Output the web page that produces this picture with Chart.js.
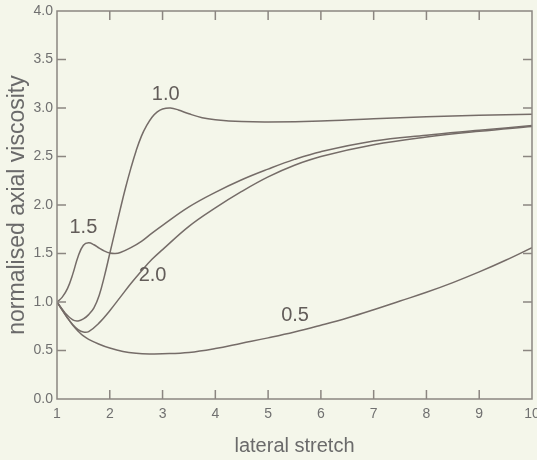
<!DOCTYPE html>
<html>
<head>
<meta charset="utf-8">
<script src="https://cdn.jsdelivr.net/npm/chart.js@4"></script>
<style>
  html, body { margin: 0; padding: 0; background: #f4f6ea; }
  #wrap { width: 537px; height: 460px; position: relative; }
</style>
</head>
<body>
<div id="wrap"><canvas id="c"></canvas></div>
<script>
// Curves: lateral stretch (x) vs normalised axial viscosity (y)
const x05 = [1, 1.1, 1.2, 1.3, 1.4, 1.5, 1.6, 1.8, 2.0, 2.25, 2.5, 2.75, 3, 3.5, 4, 4.5, 5, 5.5, 6, 6.5, 7, 7.5, 8, 8.5, 9, 9.5, 10];
const y05 = [1.0, 0.915, 0.835, 0.76, 0.70, 0.65, 0.615, 0.565, 0.525, 0.49, 0.472, 0.465, 0.466, 0.48, 0.52, 0.575, 0.63, 0.69, 0.76, 0.835, 0.92, 1.01, 1.1, 1.2, 1.31, 1.43, 1.56];

const x10 = [1, 1.15, 1.3, 1.4, 1.5, 1.6, 1.7, 1.8, 1.9, 2.0, 2.1, 2.2, 2.3, 2.4, 2.5, 2.6, 2.7, 2.8, 2.9, 3.0, 3.15, 3.3, 3.5, 3.75, 4, 4.5, 5, 6, 7, 8, 9, 10];
const y10 = [1.0, 0.89, 0.815, 0.805, 0.825, 0.87, 0.94, 1.07, 1.27, 1.5, 1.73, 1.96, 2.18, 2.38, 2.56, 2.71, 2.82, 2.905, 2.96, 2.99, 3.0, 2.98, 2.94, 2.9, 2.88, 2.86, 2.855, 2.865, 2.89, 2.91, 2.925, 2.935];

const x15 = [1, 1.1, 1.2, 1.3, 1.4, 1.5, 1.6, 1.7, 1.8, 1.9, 2.0, 2.1, 2.2, 2.4, 2.6, 2.8, 3.0, 3.5, 4, 4.5, 5, 5.5, 6, 7, 8, 9, 10];
const y15 = [1.0, 1.05, 1.14, 1.29, 1.47, 1.585, 1.61, 1.59, 1.555, 1.525, 1.505, 1.5, 1.51, 1.56, 1.625, 1.71, 1.79, 1.98, 2.13, 2.26, 2.37, 2.47, 2.55, 2.66, 2.72, 2.77, 2.82];

const x20 = [1, 1.1, 1.2, 1.3, 1.4, 1.5, 1.6, 1.8, 2.0, 2.2, 2.4, 2.6, 2.8, 3.0, 3.5, 4, 4.5, 5, 5.5, 6, 7, 8, 9, 10];
const y20 = [1.0, 0.92, 0.835, 0.765, 0.715, 0.69, 0.695, 0.785, 0.91, 1.05, 1.19, 1.32, 1.44, 1.54, 1.78, 1.97, 2.14, 2.29, 2.41, 2.5, 2.62, 2.7, 2.76, 2.81];

// In-plot curve labels, placed in data units
const curveLabels = ['1.0', '1.5', '2.0', '0.5'];
const labelX = [3.06, 1.5, 2.81, 5.51];
const labelY = [3.14, 1.77, 1.27, 0.86];

const xTicks = [1, 2, 3, 4, 5, 6, 7, 8, 9, 10];
const yTicks = [0, 0.5, 1, 1.5, 2, 2.5, 3, 3.5, 4];

const INK = '#756c68';
const TEXT = '#707070';
const FRAME = '#8b8681';
const FONT = "'Liberation Sans', Arial, sans-serif";

const pts = (xs, ys) => xs.map((x, i) => ({ x, y: ys[i] }));
const line = (xs, ys) => ({
  data: pts(xs, ys), showLine: true, borderColor: INK, borderWidth: 1.5,
  pointRadius: 0, fill: false, tension: 0.4,
});

// Frame plus inward ticks on all four sides, the way the scanned figure has them.
const frame = {
  id: 'frame',
  afterDatasetsDraw(chart) {
    const { ctx, chartArea: a, scales: { x, y } } = chart;
    const len = 9;
    ctx.save();
    ctx.strokeStyle = FRAME; ctx.lineWidth = 1.5;
    ctx.strokeRect(a.left, a.top, a.right - a.left, a.bottom - a.top);
    ctx.beginPath();
    xTicks.slice(1, -1).forEach(v => {
      const px = x.getPixelForValue(v);
      ctx.moveTo(px, a.bottom); ctx.lineTo(px, a.bottom - len);
      ctx.moveTo(px, a.top); ctx.lineTo(px, a.top + len);
    });
    yTicks.slice(1, -1).forEach(v => {
      const py = y.getPixelForValue(v);
      ctx.moveTo(a.left, py); ctx.lineTo(a.left + len, py);
      ctx.moveTo(a.right, py); ctx.lineTo(a.right - len, py);
    });
    ctx.stroke();
    ctx.fillStyle = '#625c59';
    ctx.font = `20px ${FONT}`;
    ctx.textAlign = 'center'; ctx.textBaseline = 'middle';
    curveLabels.forEach((t, i) => {
      ctx.fillText(t, x.getPixelForValue(labelX[i]), y.getPixelForValue(labelY[i]));
    });
    ctx.restore();
  }
};

new Chart(document.getElementById('c'), {
  type: 'scatter',
  data: { datasets: [line(x10, y10), line(x15, y15), line(x20, y20), line(x05, y05)] },
  options: {
    responsive: true, maintainAspectRatio: false, animation: false,
    layout: { padding: { top: 11, right: 5, left: 0, bottom: 0 } },
    plugins: { legend: { display: false }, tooltip: { enabled: false } },
    scales: {
      x: {
        type: 'linear', min: 1, max: 10,
        afterBuildTicks: s => { s.ticks = xTicks.map(v => ({ value: v })); },
        afterFit: s => { s.height = 61; s.paddingLeft = 0; s.paddingRight = 0; },
        grid: { display: false, drawTicks: false }, border: { display: false },
        ticks: { color: TEXT, padding: 7, font: { family: FONT, size: 14 }, maxRotation: 0, autoSkip: false },
        title: { display: true, text: 'lateral stretch', color: '#6a6a6a', font: { family: FONT, size: 20 }, padding: { top: 0, bottom: 2 } }
      },
      y: {
        type: 'linear', min: 0, max: 4,
        afterBuildTicks: s => { s.ticks = yTicks.map(v => ({ value: v })); },
        afterFit: s => { s.width = 57; s.paddingTop = 0; s.paddingBottom = 0; },
        grid: { display: false, drawTicks: false }, border: { display: false },
        ticks: { color: TEXT, padding: 4, font: { family: FONT, size: 14 }, callback: v => v.toFixed(1) },
        title: { display: true, text: 'normalised axial viscosity', color: '#6a6a6a', font: { family: FONT, size: 23 }, padding: { top: 4, bottom: 0 } }
      }
    }
  },
  plugins: [frame]
});
</script>
</body>
</html>
